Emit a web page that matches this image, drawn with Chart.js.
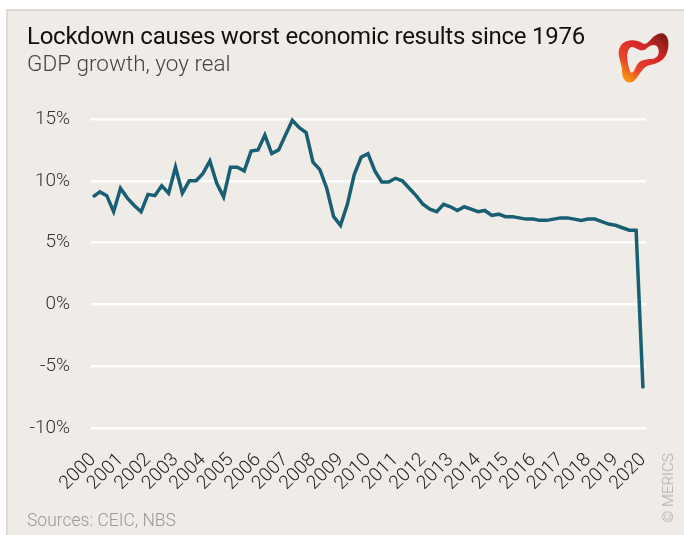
<!DOCTYPE html>
<html>
<head>
<meta charset="utf-8">
<script src="https://cdn.jsdelivr.net/npm/chart.js@4.4.0/dist/chart.umd.min.js"></script>
<style>
  html, body { margin: 0; padding: 0; background: #fff; }
  #card {
    position: absolute; left: 6px; top: 9px; width: 678px; height: 526px;
    background: #efebe6; border-left: 2px solid #dedbd7; border-top: 2px solid #dedbd7;
    box-sizing: border-box;
  }
  #wrap { position: absolute; left: 0; top: 0; width: 684px; height: 535px; }
  .txt { position: absolute; font-family: Roboto, sans-serif; white-space: nowrap; }
  #title { left: 27px; top: 22px; font-size: 24px; letter-spacing: -0.25px; color: #111; }
  #subtitle { left: 27px; top: 50px; font-size: 22.5px; font-weight: 300; color: #444; }
  #source { left: 27px; top: 510px; font-size: 17.5px; font-weight: 300; color: #999; }
  #copy { left: 668px; top: 488px; font-size: 15px; font-weight: 300; color: #aaa;
          transform: translate(-50%, -50%) rotate(-90deg); }
  #logo { position: absolute; left: 616px; top: 31px; }
</style>
</head>
<body>
<div id="card"></div>
<div id="wrap"><canvas id="gdpChart" width="684" height="535"></canvas></div>
<div class="txt" id="title">Lockdown causes worst economic results since 1976</div>
<div class="txt" id="subtitle">GDP growth, yoy real</div>
<div class="txt" id="source">Sources: CEIC, NBS</div>
<div class="txt" id="copy">© MERICS</div>
<svg id="logo" width="56" height="54" viewBox="0 0 56 54">
  <defs>
    <linearGradient id="lg" x1="1" y1="0" x2="0.2" y2="1">
      <stop offset="0" stop-color="#6e1a0c"/>
      <stop offset="0.4" stop-color="#d6262a"/>
      <stop offset="0.75" stop-color="#e8442a"/>
      <stop offset="1" stop-color="#f59a10"/>
    </linearGradient>
  </defs>
  <path fill="url(#lg)" fill-rule="evenodd"
    d="M4 16 C8 8 20 8 26 12 C32 16 34 6 42 3 C50 0 54 8 52 18 C50 28 44 32 34 34 C26 36 24 44 18 50 C12 54 6 50 6 40 C6 32 0 24 4 16 Z
       M12 20 C10 26 12 34 14 40 C16 44 18 40 20 36 C22 30 28 28 36 28 C42 27 44 22 42 17 C40 12 34 14 30 18 C24 22 20 16 16 16 C14 16 13 18 12 20 Z"/>
</svg>
<script>
  // quarterly real GDP growth, yoy, 2000 Q1 .. 2020 Q1
  const years = ["2000","2001","2002","2003","2004","2005","2006","2007","2008","2009","2010",
                 "2011","2012","2013","2014","2015","2016","2017","2018","2019","2020"];
  const growth = [
    8.7, 9.1, 8.8, 7.5,
    9.4, 8.6, 8.0, 7.5,
    8.9, 8.8, 9.6, 9.0,
    11.1, 9.0, 10.0, 10.0,
    10.6, 11.6, 9.8, 8.7,
    11.1, 11.1, 10.8, 12.4,
    12.5, 13.7, 12.2, 12.5,
    13.7, 14.9, 14.3, 13.9,
    11.5, 10.9, 9.4, 7.1,
    6.4, 8.1, 10.5, 11.9,
    12.2, 10.8, 9.9, 9.9,
    10.2, 10.0, 9.4, 8.8,
    8.1, 7.7, 7.5, 8.1,
    7.9, 7.6, 7.9, 7.7,
    7.5, 7.6, 7.2, 7.3,
    7.1, 7.1, 7.0, 6.9,
    6.9, 6.8, 6.8, 6.9,
    7.0, 7.0, 6.9, 6.8,
    6.9, 6.9, 6.7, 6.5,
    6.4, 6.2, 6.0, 6.0,
    -6.8
  ];
  const yTicks = [-10, -5, 0, 5, 10, 15];

  const tickFont = { family: "Roboto", size: 19, weight: 300 };

  new Chart(document.getElementById("gdpChart"), {
    type: "line",
    data: {
      datasets: [{
        data: growth.map((v, i) => ({ x: i, y: v })),
        borderColor: "#185f74",
        borderWidth: 3.5,
        pointRadius: 0,
        tension: 0,
        clip: false
      }]
    },
    options: {
      responsive: false,
      animation: false,
      layout: { padding: { left: 0, top: 119, right: 38, bottom: 30 } },
      plugins: { legend: { display: false }, tooltip: { enabled: false } },
      scales: {
        x: {
          type: "linear",
          min: -0.29,
          max: 80.44,
          grid: { display: false },
          border: { display: false },
          afterBuildTicks: s => { s.ticks = years.map((_, i) => ({ value: i * 4 })); },
          afterFit: s => { s.height = 77; },
          ticks: {
            autoSkip: false,
            minRotation: 45,
            maxRotation: 45,
            padding: 13,
            color: "#222",
            font: { family: "Roboto", size: 19, weight: 300 },
            callback: v => years[v / 4]
          }
        },
        y: {
          min: -10,
          max: 15,
          afterBuildTicks: s => { s.ticks = yTicks.map(v => ({ value: v })); },
          afterFit: s => { s.width = 91; },
          grid: { color: "#ffffff", lineWidth: 2.5, drawTicks: false },
          border: { display: false },
          ticks: {
            padding: 21,
            color: "#333",
            font: tickFont,
            callback: v => v + "%"
          }
        }
      }
    }
  });
</script>
</body>
</html>
